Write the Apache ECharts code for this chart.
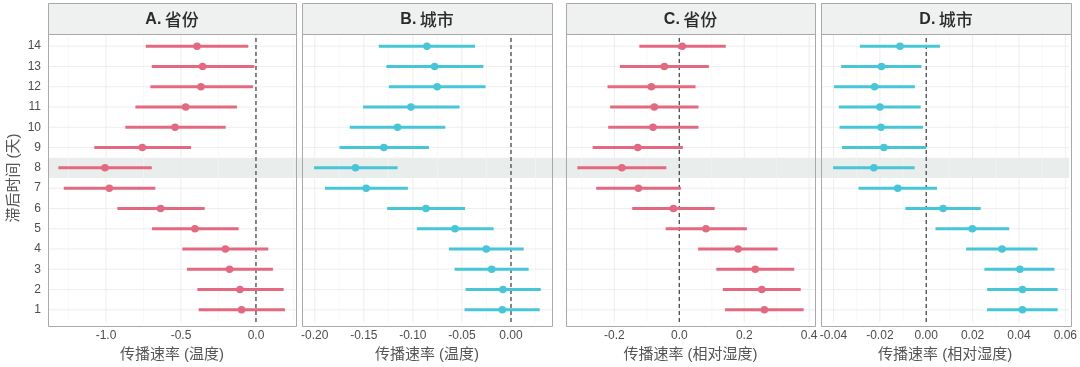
<!DOCTYPE html>
<html><head><meta charset="utf-8">
<script src="https://cdn.jsdelivr.net/npm/echarts@6/dist/echarts.min.js"></script>
<style>html,body{margin:0;padding:0;background:#fff}#c{width:1080px;height:367px}</style>
</head><body><div id="c"></div>
<script>
// ---- data ----
const rows = [1,2,3,4,5,6,7,8,9,10,11,12,13,14];
const highlightRow = 8;

const aMid = [-0.096,-0.107,-0.176,-0.204,-0.407,-0.636,-0.978,-1.007,-0.758,-0.540,-0.469,-0.367,-0.356,-0.393];
const aLo  = [-0.382,-0.391,-0.460,-0.491,-0.693,-0.924,-1.282,-1.318,-1.078,-0.871,-0.804,-0.704,-0.695,-0.735];
const aHi  = [0.193,0.184,0.113,0.082,-0.116,-0.342,-0.671,-0.695,-0.433,-0.202,-0.127,-0.020,-0.011,-0.051];

const bMid = [-0.0088,-0.0082,-0.0197,-0.0252,-0.0571,-0.0867,-0.1476,-0.1585,-0.1296,-0.1156,-0.1020,-0.0752,-0.0779,-0.0857];
const bLo  = [-0.0473,-0.0463,-0.0575,-0.0633,-0.0959,-0.1262,-0.1895,-0.2007,-0.1748,-0.1643,-0.1507,-0.1245,-0.1270,-0.1347];
const bHi  = [0.0293,0.0303,0.0180,0.0129,-0.0177,-0.0469,-0.1051,-0.1156,-0.0837,-0.0670,-0.0524,-0.0259,-0.0282,-0.0367];

const cMid = [0.262,0.254,0.234,0.181,0.082,-0.018,-0.126,-0.177,-0.128,-0.081,-0.077,-0.086,-0.046,0.009];
const cLo  = [0.141,0.134,0.114,0.058,-0.042,-0.145,-0.256,-0.314,-0.267,-0.219,-0.213,-0.221,-0.183,-0.123];
const cHi  = [0.383,0.374,0.354,0.303,0.208,0.109,0.005,-0.040,0.011,0.059,0.059,0.050,0.091,0.143];

const dMid = [0.0415,0.0415,0.0404,0.0327,0.0199,0.0073,-0.0123,-0.0226,-0.0183,-0.0195,-0.0200,-0.0223,-0.0193,-0.0113];
const dLo  = [0.0262,0.0263,0.0251,0.0172,0.0040,-0.0090,-0.0292,-0.0402,-0.0364,-0.0374,-0.0377,-0.0398,-0.0367,-0.0286];
const dHi  = [0.0567,0.0567,0.0553,0.0480,0.0358,0.0235,0.0046,-0.0050,0.0000,-0.0014,-0.0024,-0.0049,-0.0021,0.0059];

const aMajor = [-1.0,-0.5,0.0], aMinor = [-1.25,-0.75,-0.25,0.25];
const bMajor = [-0.20,-0.15,-0.10,-0.05,0.00], bMinor = [-0.175,-0.125,-0.075,-0.025,0.025];
const cMajor = [-0.2,0.0,0.2,0.4], cMinor = [-0.3,-0.1,0.1,0.3];
const dMajor = [-0.04,-0.02,0.00,0.02,0.04,0.06], dMinor = [-0.03,-0.01,0.01,0.03,0.05];

const panelLetters = ['A.','B.','C.','D.'];
const panelNames = ['省份','城市','省份','城市'];
const xNames = ['传播速率 (温度)','传播速率 (温度)','传播速率 (相对湿度)','传播速率 (相对湿度)'];
const yName = '滞后时间 (天)';

// ---- styling / layout ----
const RED = '#e4687f', CYAN = '#46c6d6';
const panels = [
  {lo:aLo, mid:aMid, hi:aHi, color:RED,  min:-1.387, max:0.267,  major:aMajor, minor:aMinor, dec:1},
  {lo:bLo, mid:bMid, hi:bHi, color:CYAN, min:-0.213, max:0.0418, major:bMajor, minor:bMinor, dec:2},
  {lo:cLo, mid:cMid, hi:cHi, color:RED,  min:-0.349, max:0.418,  major:cMajor, minor:cMinor, dec:1},
  {lo:dLo, mid:dMid, hi:dHi, color:CYAN, min:-0.0454, max:0.0617, major:dMajor, minor:dMinor, dec:2}
];
const layout = [{left:48,width:248},{left:302,width:250},{left:566,width:249},{left:821,width:250}];
const TOP = 34, H = 292, STRIP_TOP = 3;
const YMIN = 0.4, YMAX = 14.6;
const LATIN = "'Liberation Sans', Arial, sans-serif";
const CJK = "'Liberation Sans', 'Noto Sans CJK SC', sans-serif";

const chart = echarts.init(document.getElementById('c'), null, {renderer:'canvas'});

const grid = [], xAxis = [], yAxis = [], series = [];
function vline(stroke, width, dash) {
  return function (params, api) {
    const x = api.value(0);
    const a = api.coord([x, YMIN]), b = api.coord([x, YMAX]);
    return {type:'line', shape:{x1:a[0], y1:a[1], x2:b[0], y2:b[1]},
      style:{stroke:stroke, lineWidth:width, lineDash:dash || null}};
  };
}
panels.forEach((p, i) => {
  grid.push({left:layout[i].left, width:layout[i].width, top:TOP, height:H, containLabel:false});
  xAxis.push({type:'value', gridIndex:i, min:p.min, max:p.max,
    axisLine:{show:false}, axisTick:{show:false}, splitLine:{show:false},
    axisLabel:{customValues:p.major, formatter:v => Number(v).toFixed(p.dec),
      color:'#4d4d4d', fontSize:12, margin:8, fontFamily:LATIN},
    name:xNames[i], nameLocation:'middle', nameGap:25,
    nameTextStyle:{color:'#555', fontSize:15, fontFamily:CJK}});
  yAxis.push({type:'value', gridIndex:i, min:YMIN, max:YMAX,
    axisLine:{show:false}, axisTick:{show:false}, splitLine:{show:false},
    axisLabel:{show:i === 0, customValues:rows, color:'#4d4d4d', fontSize:12, margin:7, fontFamily:LATIN},
    name:i === 0 ? yName : '', nameLocation:'middle', nameGap:27, nameRotate:90,
    nameTextStyle:{color:'#555', fontSize:15, fontFamily:CJK}});
  // minor vertical grid
  series.push({type:'custom', xAxisIndex:i, yAxisIndex:i, silent:true, z:1,
    data:p.minor.map(v => [v]), encode:{x:0}, renderItem:vline('#f5f5f5', 0.7)});
  // major vertical grid
  series.push({type:'custom', xAxisIndex:i, yAxisIndex:i, silent:true, z:1,
    data:p.major.map(v => [v]), encode:{x:0}, renderItem:vline('#ebebeb', 0.9)});
  // horizontal grid at rows
  series.push({type:'custom', xAxisIndex:i, yAxisIndex:i, silent:true, z:1,
    data:rows.map(r => [r]), encode:{y:0},
    renderItem:function (params, api) {
      const y = api.value(0);
      const a = api.coord([p.min, y]), b = api.coord([p.max, y]);
      return {type:'line', shape:{x1:a[0], y1:a[1], x2:b[0], y2:b[1]}, style:{stroke:'#ebebeb', lineWidth:0.9}};
    }});
  // zero dashed line
  series.push({type:'custom', xAxisIndex:i, yAxisIndex:i, silent:true, z:2,
    data:[[0]], encode:{x:0}, renderItem:vline('#4a4a4a', 1.3, [4, 3])});
  // error bars
  series.push({type:'custom', xAxisIndex:i, yAxisIndex:i, silent:true, z:3,
    data:rows.map((r, k) => [p.lo[k], p.hi[k], r]), encode:{x:[0,1], y:2},
    renderItem:function (params, api) {
      const a = api.coord([api.value(0), api.value(2)]);
      const b = api.coord([api.value(1), api.value(2)]);
      return {type:'line', shape:{x1:a[0], y1:a[1], x2:b[0], y2:b[1]},
        style:{stroke:p.color, lineWidth:3, lineCap:'butt'}};
    }});
  // point estimates
  series.push({type:'scatter', xAxisIndex:i, yAxisIndex:i, silent:true, z:4,
    data:rows.map((r, k) => [p.mid[k], r]), symbol:'circle', symbolSize:7.5,
    itemStyle:{color:p.color, opacity:1}});
});

chart.setOption({animation:false, backgroundColor:'#ffffff', grid, xAxis, yAxis, series});

// ---- graphics: highlight band, strips, borders ----
const graphic = [];
const pTop = chart.convertToPixel({gridIndex:0}, [panels[0].min, highlightRow + 0.5]);
const pBot = chart.convertToPixel({gridIndex:0}, [panels[0].min, highlightRow - 0.5]);
const pRight = chart.convertToPixel({gridIndex:3}, [panels[3].max, highlightRow]);
graphic.push({type:'rect', z:0, silent:true,
  shape:{x:pTop[0], y:pTop[1], width:pRight[0] - pTop[0], height:pBot[1] - pTop[1]},
  style:{fill:'#e9edec'}});
layout.forEach((l, i) => {
  graphic.push({type:'rect', z:100, silent:true,
    shape:{x:l.left + 0.5, y:TOP + 0.5, width:l.width, height:H},
    style:{fill:null, stroke:'#a9a9a9', lineWidth:1}});
  graphic.push({type:'rect', z:100, silent:true,
    shape:{x:l.left + 0.5, y:STRIP_TOP + 0.5, width:l.width, height:TOP - STRIP_TOP},
    style:{fill:'#eef1f0', stroke:'#a9a9a9', lineWidth:1}});
  graphic.push({type:'text', z:101, silent:true,
    x:l.left + l.width / 2, y:STRIP_TOP + (TOP - STRIP_TOP) / 2 + 1,
    style:{text:'{b|' + panelLetters[i] + '} {n|' + panelNames[i] + '}',
      align:'center', verticalAlign:'middle',
      rich:{
        b:{fontFamily:LATIN, fontWeight:'bold', fontSize:16, fill:'#2b2b2b'},
        n:{fontFamily:"'Noto Sans CJK SC', sans-serif", fontWeight:500, fontSize:17, fill:'#2b2b2b'}
      }}});
});
chart.setOption({graphic});
</script>
</body></html>
